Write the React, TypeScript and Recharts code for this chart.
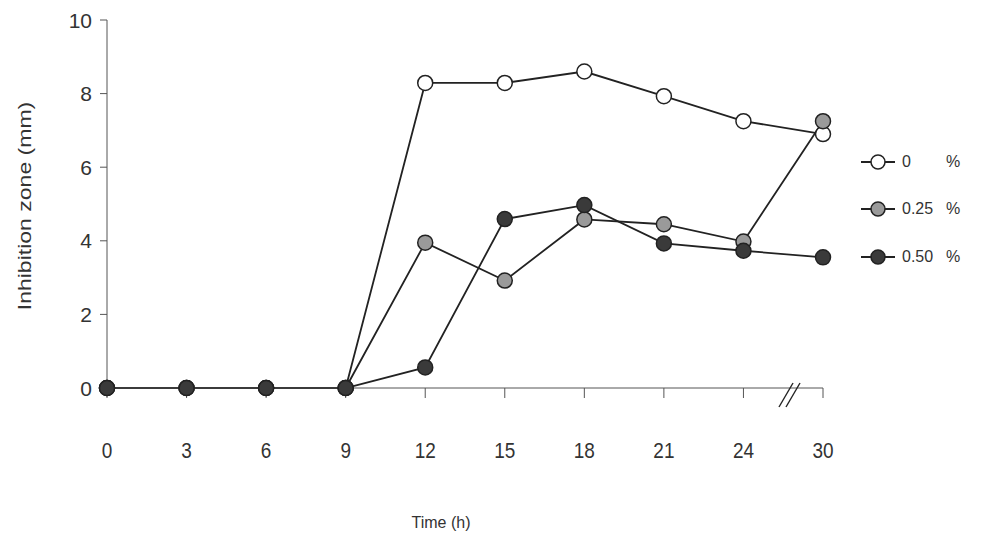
import React from 'react';
import { LineChart, Line, XAxis, YAxis, Legend, ReferenceDot } from 'recharts';

const hours = ['0', '3', '6', '9', '12', '15', '18', '21', '24', '30'];
const conc0 = [0, 0, 0, 0, 8.29, 8.29, 8.6, 7.93, 7.25, 6.9];
const conc025 = [0, 0, 0, 0, 3.95, 2.92, 4.58, 4.45, 3.98, 7.25];
const conc050 = [0, 0, 0, 0, 0.56, 4.59, 4.97, 3.93, 3.73, 3.55];
const yTicks = [0, 2, 4, 6, 8, 10];

const SERIES = [
  { key: 'c0', name: '0', fill: '#ffffff' },
  { key: 'c025', name: '0.25', fill: '#9a9a9a' },
  { key: 'c050', name: '0.50', fill: '#3a3a3a' },
];

const data = hours.map((h, i) => ({
  hour: h,
  c0: conc0[i],
  c025: conc025[i],
  c050: conc050[i],
}));

const FONT = '"Liberation Sans", Arial, sans-serif';
const INK = '#222';
const TEXT = '#333';

// the scan is a bit stretched vertically, so the labels are too
const XTick = ({ x, y, payload }: any) => (
  <text
    transform={`translate(${x},${y + 50}) scale(1,1.2)`}
    textAnchor="middle"
    dominantBaseline="central"
    fill={TEXT}
    fontSize={19}
    fontFamily={FONT}
  >
    {payload.value}
  </text>
);

const YTick = ({ x, y, payload }: any) => (
  <text
    x={x}
    y={y}
    textAnchor="end"
    dominantBaseline="central"
    fill={TEXT}
    fontSize={21}
    fontFamily={FONT}
  >
    {payload.value}
  </text>
);

const YLabel = ({ viewBox }: any) => {
  if (!viewBox) return null;
  const cy = viewBox.y + viewBox.height / 2;
  return (
    <text
      transform={`translate(24,${cy + 2}) rotate(-90) scale(1.28,1)`}
      textAnchor="middle"
      dominantBaseline="central"
      fill={TEXT}
      fontSize={18}
      fontFamily={FONT}
    >
      Inhibition zone (mm)
    </text>
  );
};

// legend: short line with the marker in the middle, then the label and a spaced-out "%"
const CustomLegend = () => (
  <div style={{ fontFamily: FONT, fontSize: 16, color: TEXT }}>
    {SERIES.map((s) => (
      <div key={s.key} style={{ display: 'flex', alignItems: 'center', height: 47.5 }}>
        <svg width={38} height={18}>
          <line x1={1} y1={9} x2={35} y2={9} stroke={INK} strokeWidth={1.8} />
          <circle cx={18} cy={9} r={7} fill={s.fill} stroke={INK} strokeWidth={1.5} />
        </svg>
        <span style={{ marginLeft: 4, width: 44, display: 'inline-block' }}>{s.name}</span>
        <span>%</span>
      </div>
    ))}
  </div>
);

// axis break "//" just left of the last category
const BreakMark = ({ cx, cy }: any) => {
  if (cx == null || cy == null) return null;
  const y = cy + 7;
  return (
    <g>
      <line x1={cx - 44} y1={y + 12} x2={cx - 30} y2={y - 12} stroke={INK} strokeWidth={1.4} />
      <line x1={cx - 37} y1={y + 12} x2={cx - 23} y2={y - 12} stroke={INK} strokeWidth={1.4} />
    </g>
  );
};

export default function App() {
  return (
    <div style={{ position: 'fixed', left: 0, top: 0, width: 984, height: 550, background: '#fff' }}>
      <LineChart
        width={984}
        height={550}
        data={data}
        margin={{ top: 20, right: 37, bottom: 22, left: 17 }}
      >
        <XAxis
          dataKey="hour"
          height={140}
          interval={0}
          stroke="#555"
          tickSize={10}
          tick={<XTick />}
          label={{
            value: 'Time (h)',
            position: 'insideBottom',
            offset: 0,
            dx: -24,
            style: { fill: TEXT, fontSize: 16, fontFamily: FONT },
          }}
        />
        <YAxis
          type="number"
          domain={[0, 10]}
          ticks={yTicks}
          width={90}
          stroke="#555"
          tickSize={7}
          tickMargin={8}
          tick={<YTick />}
          label={<YLabel />}
        />
        <Legend
          content={<CustomLegend />}
          layout="vertical"
          align="right"
          verticalAlign="top"
          wrapperStyle={{ left: 860, top: 138, right: 'auto', width: 124 }}
        />
        {SERIES.map((s) => (
          <Line
            key={s.key}
            dataKey={s.key}
            name={`${s.name} %`}
            stroke={INK}
            strokeWidth={1.8}
            dot={{ r: 7.5, fill: s.fill, stroke: INK, strokeWidth: 1.5 }}
            isAnimationActive={false}
          />
        ))}
        <ReferenceDot x="30" y={0} shape={<BreakMark />} ifOverflow="visible" />
      </LineChart>
    </div>
  );
}
